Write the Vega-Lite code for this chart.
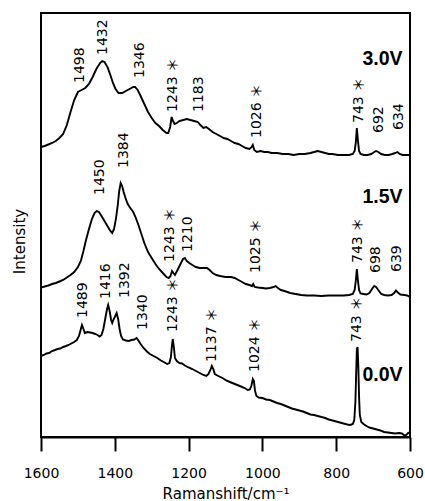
{
  "$schema": "https://vega.github.io/schema/vega-lite/v6.json",
  "width": 369,
  "height": 424,
  "autosize": "none",
  "padding": {"left": 41, "top": 13, "right": 15, "bottom": 64},
  "background": "white",
  "config": {
    "view": {"stroke": "black", "strokeWidth": 2},
    "axis": {"grid": false, "labelFont": "DejaVu Sans", "titleFont": "DejaVu Sans", "labelColor": "black", "titleColor": "black", "titleFontWeight": "normal"}
  },
  "datasets": {
    "spectra": [
      {"s":"3.0V","x":1600,"y":290},{"s":"3.0V","x":1590,"y":291},{"s":"3.0V","x":1580,"y":292.5},{"s":"3.0V","x":1570,"y":294},{"s":"3.0V","x":1560,"y":296},{"s":"3.0V","x":1550,"y":299},{"s":"3.0V","x":1540,"y":303},{"s":"3.0V","x":1530,"y":312},{"s":"3.0V","x":1520,"y":325},{"s":"3.0V","x":1510,"y":337},{"s":"3.0V","x":1500,"y":345},{"s":"3.0V","x":1490,"y":347},{"s":"3.0V","x":1480,"y":349},{"s":"3.0V","x":1470,"y":353},{"s":"3.0V","x":1460,"y":360},{"s":"3.0V","x":1450,"y":368},{"s":"3.0V","x":1440,"y":374},{"s":"3.0V","x":1434,"y":376},{"s":"3.0V","x":1428,"y":375},{"s":"3.0V","x":1420,"y":370},{"s":"3.0V","x":1412,"y":362},{"s":"3.0V","x":1405,"y":354},{"s":"3.0V","x":1398,"y":348},{"s":"3.0V","x":1390,"y":344},{"s":"3.0V","x":1380,"y":344},{"s":"3.0V","x":1370,"y":346},{"s":"3.0V","x":1360,"y":348},{"s":"3.0V","x":1350,"y":350},{"s":"3.0V","x":1345,"y":350},{"s":"3.0V","x":1338,"y":347},{"s":"3.0V","x":1330,"y":341},{"s":"3.0V","x":1320,"y":333},{"s":"3.0V","x":1310,"y":325},{"s":"3.0V","x":1300,"y":319},{"s":"3.0V","x":1290,"y":314},{"s":"3.0V","x":1280,"y":311},{"s":"3.0V","x":1270,"y":307},{"s":"3.0V","x":1260,"y":304},{"s":"3.0V","x":1255,"y":304},{"s":"3.0V","x":1250,"y":310},{"s":"3.0V","x":1246,"y":320},{"s":"3.0V","x":1242,"y":316},{"s":"3.0V","x":1238,"y":313},{"s":"3.0V","x":1232,"y":314},{"s":"3.0V","x":1225,"y":316},{"s":"3.0V","x":1215,"y":317},{"s":"3.0V","x":1205,"y":318},{"s":"3.0V","x":1195,"y":317},{"s":"3.0V","x":1185,"y":316},{"s":"3.0V","x":1175,"y":315},{"s":"3.0V","x":1168,"y":312},{"s":"3.0V","x":1160,"y":309},{"s":"3.0V","x":1152,"y":310},{"s":"3.0V","x":1145,"y":308},{"s":"3.0V","x":1135,"y":305},{"s":"3.0V","x":1125,"y":303},{"s":"3.0V","x":1115,"y":301},{"s":"3.0V","x":1105,"y":299},{"s":"3.0V","x":1095,"y":298},{"s":"3.0V","x":1085,"y":296},{"s":"3.0V","x":1075,"y":294},{"s":"3.0V","x":1065,"y":293},{"s":"3.0V","x":1055,"y":291},{"s":"3.0V","x":1045,"y":289},{"s":"3.0V","x":1035,"y":288},{"s":"3.0V","x":1029,"y":290},{"s":"3.0V","x":1026,"y":292},{"s":"3.0V","x":1022,"y":287},{"s":"3.0V","x":1015,"y":285},{"s":"3.0V","x":1005,"y":286},{"s":"3.0V","x":995,"y":285},{"s":"3.0V","x":985,"y":285},{"s":"3.0V","x":975,"y":284},{"s":"3.0V","x":960,"y":284},{"s":"3.0V","x":945,"y":283},{"s":"3.0V","x":930,"y":283},{"s":"3.0V","x":915,"y":282},{"s":"3.0V","x":900,"y":283},{"s":"3.0V","x":885,"y":283},{"s":"3.0V","x":870,"y":284},{"s":"3.0V","x":860,"y":285},{"s":"3.0V","x":850,"y":286},{"s":"3.0V","x":840,"y":285},{"s":"3.0V","x":830,"y":284},{"s":"3.0V","x":820,"y":283},{"s":"3.0V","x":810,"y":283},{"s":"3.0V","x":795,"y":282},{"s":"3.0V","x":780,"y":282},{"s":"3.0V","x":765,"y":282},{"s":"3.0V","x":755,"y":283},{"s":"3.0V","x":750,"y":286},{"s":"3.0V","x":747,"y":294},{"s":"3.0V","x":744,"y":309},{"s":"3.0V","x":741,"y":296},{"s":"3.0V","x":738,"y":286},{"s":"3.0V","x":734,"y":283},{"s":"3.0V","x":725,"y":282},{"s":"3.0V","x":715,"y":282},{"s":"3.0V","x":705,"y":283},{"s":"3.0V","x":697,"y":285},{"s":"3.0V","x":692,"y":286},{"s":"3.0V","x":686,"y":285},{"s":"3.0V","x":678,"y":283},{"s":"3.0V","x":668,"y":282},{"s":"3.0V","x":658,"y":282},{"s":"3.0V","x":648,"y":283},{"s":"3.0V","x":640,"y":284},{"s":"3.0V","x":634,"y":285},{"s":"3.0V","x":628,"y":283},{"s":"3.0V","x":620,"y":282},{"s":"3.0V","x":610,"y":282},{"s":"3.0V","x":600,"y":282},
      {"s":"1.5V","x":1600,"y":149.5},{"s":"1.5V","x":1590,"y":150.5},{"s":"1.5V","x":1580,"y":151.5},{"s":"1.5V","x":1570,"y":153},{"s":"1.5V","x":1560,"y":154},{"s":"1.5V","x":1550,"y":155.5},{"s":"1.5V","x":1540,"y":157},{"s":"1.5V","x":1530,"y":159.5},{"s":"1.5V","x":1520,"y":162},{"s":"1.5V","x":1510,"y":165},{"s":"1.5V","x":1500,"y":170},{"s":"1.5V","x":1492,"y":176},{"s":"1.5V","x":1485,"y":186},{"s":"1.5V","x":1478,"y":197},{"s":"1.5V","x":1470,"y":208},{"s":"1.5V","x":1462,"y":218},{"s":"1.5V","x":1455,"y":224},{"s":"1.5V","x":1449,"y":226},{"s":"1.5V","x":1443,"y":225},{"s":"1.5V","x":1436,"y":221},{"s":"1.5V","x":1428,"y":216},{"s":"1.5V","x":1420,"y":211},{"s":"1.5V","x":1412,"y":206},{"s":"1.5V","x":1407,"y":204},{"s":"1.5V","x":1402,"y":208},{"s":"1.5V","x":1397,"y":218},{"s":"1.5V","x":1392,"y":232},{"s":"1.5V","x":1388,"y":246},{"s":"1.5V","x":1384,"y":254},{"s":"1.5V","x":1380,"y":251},{"s":"1.5V","x":1376,"y":245},{"s":"1.5V","x":1371,"y":239},{"s":"1.5V","x":1365,"y":233},{"s":"1.5V","x":1358,"y":229},{"s":"1.5V","x":1350,"y":225},{"s":"1.5V","x":1344,"y":220},{"s":"1.5V","x":1336,"y":212},{"s":"1.5V","x":1328,"y":203},{"s":"1.5V","x":1320,"y":194},{"s":"1.5V","x":1310,"y":185},{"s":"1.5V","x":1300,"y":179},{"s":"1.5V","x":1290,"y":173},{"s":"1.5V","x":1280,"y":168},{"s":"1.5V","x":1270,"y":164},{"s":"1.5V","x":1260,"y":160},{"s":"1.5V","x":1254,"y":159},{"s":"1.5V","x":1249,"y":161},{"s":"1.5V","x":1245,"y":166},{"s":"1.5V","x":1241,"y":164},{"s":"1.5V","x":1237,"y":162},{"s":"1.5V","x":1230,"y":167},{"s":"1.5V","x":1222,"y":173},{"s":"1.5V","x":1215,"y":178},{"s":"1.5V","x":1210,"y":179},{"s":"1.5V","x":1205,"y":176},{"s":"1.5V","x":1198,"y":174},{"s":"1.5V","x":1190,"y":172},{"s":"1.5V","x":1180,"y":170},{"s":"1.5V","x":1170,"y":169},{"s":"1.5V","x":1160,"y":169},{"s":"1.5V","x":1150,"y":169},{"s":"1.5V","x":1143,"y":167},{"s":"1.5V","x":1135,"y":164},{"s":"1.5V","x":1125,"y":162},{"s":"1.5V","x":1115,"y":161},{"s":"1.5V","x":1100,"y":160},{"s":"1.5V","x":1085,"y":160},{"s":"1.5V","x":1075,"y":159},{"s":"1.5V","x":1065,"y":157},{"s":"1.5V","x":1055,"y":155},{"s":"1.5V","x":1045,"y":153},{"s":"1.5V","x":1035,"y":152},{"s":"1.5V","x":1028,"y":151},{"s":"1.5V","x":1025,"y":153},{"s":"1.5V","x":1021,"y":150},{"s":"1.5V","x":1012,"y":149.5},{"s":"1.5V","x":1000,"y":149},{"s":"1.5V","x":990,"y":148.5},{"s":"1.5V","x":980,"y":149},{"s":"1.5V","x":970,"y":150},{"s":"1.5V","x":964,"y":151},{"s":"1.5V","x":958,"y":149},{"s":"1.5V","x":950,"y":147},{"s":"1.5V","x":940,"y":146},{"s":"1.5V","x":925,"y":144},{"s":"1.5V","x":910,"y":143},{"s":"1.5V","x":895,"y":142},{"s":"1.5V","x":880,"y":141.5},{"s":"1.5V","x":860,"y":141.5},{"s":"1.5V","x":840,"y":141},{"s":"1.5V","x":820,"y":141.5},{"s":"1.5V","x":800,"y":141.5},{"s":"1.5V","x":780,"y":141.5},{"s":"1.5V","x":765,"y":142},{"s":"1.5V","x":755,"y":143},{"s":"1.5V","x":750,"y":147},{"s":"1.5V","x":747,"y":156},{"s":"1.5V","x":744,"y":168},{"s":"1.5V","x":741,"y":156},{"s":"1.5V","x":738,"y":147},{"s":"1.5V","x":734,"y":143.5},{"s":"1.5V","x":726,"y":143},{"s":"1.5V","x":718,"y":142.5},{"s":"1.5V","x":710,"y":144},{"s":"1.5V","x":703,"y":148},{"s":"1.5V","x":697,"y":151},{"s":"1.5V","x":692,"y":150},{"s":"1.5V","x":686,"y":147},{"s":"1.5V","x":678,"y":143},{"s":"1.5V","x":670,"y":142},{"s":"1.5V","x":660,"y":141.5},{"s":"1.5V","x":650,"y":142},{"s":"1.5V","x":643,"y":144},{"s":"1.5V","x":638,"y":146.5},{"s":"1.5V","x":633,"y":144.5},{"s":"1.5V","x":626,"y":142.5},{"s":"1.5V","x":615,"y":142},{"s":"1.5V","x":608,"y":141.5},{"s":"1.5V","x":600,"y":140},
      {"s":"0.0V","x":1600,"y":81},{"s":"0.0V","x":1592,"y":82},{"s":"0.0V","x":1585,"y":83.5},{"s":"0.0V","x":1578,"y":84},{"s":"0.0V","x":1570,"y":86},{"s":"0.0V","x":1562,"y":87},{"s":"0.0V","x":1555,"y":88},{"s":"0.0V","x":1548,"y":88.5},{"s":"0.0V","x":1540,"y":90},{"s":"0.0V","x":1532,"y":91},{"s":"0.0V","x":1525,"y":92},{"s":"0.0V","x":1518,"y":93.5},{"s":"0.0V","x":1510,"y":95},{"s":"0.0V","x":1503,"y":97},{"s":"0.0V","x":1497,"y":101},{"s":"0.0V","x":1492,"y":108},{"s":"0.0V","x":1489,"y":112},{"s":"0.0V","x":1485,"y":108},{"s":"0.0V","x":1481,"y":104},{"s":"0.0V","x":1474,"y":105},{"s":"0.0V","x":1467,"y":104.5},{"s":"0.0V","x":1460,"y":104},{"s":"0.0V","x":1453,"y":103},{"s":"0.0V","x":1447,"y":102},{"s":"0.0V","x":1441,"y":100.5},{"s":"0.0V","x":1436,"y":102},{"s":"0.0V","x":1431,"y":108},{"s":"0.0V","x":1426,"y":118},{"s":"0.0V","x":1421,"y":128},{"s":"0.0V","x":1418,"y":132},{"s":"0.0V","x":1414,"y":126},{"s":"0.0V","x":1410,"y":117},{"s":"0.0V","x":1407,"y":114},{"s":"0.0V","x":1404,"y":117},{"s":"0.0V","x":1400,"y":120},{"s":"0.0V","x":1395,"y":124},{"s":"0.0V","x":1391,"y":118},{"s":"0.0V","x":1387,"y":108},{"s":"0.0V","x":1383,"y":101},{"s":"0.0V","x":1378,"y":97.5},{"s":"0.0V","x":1370,"y":96.5},{"s":"0.0V","x":1362,"y":96},{"s":"0.0V","x":1355,"y":97},{"s":"0.0V","x":1347,"y":97.5},{"s":"0.0V","x":1341,"y":99},{"s":"0.0V","x":1336,"y":96.5},{"s":"0.0V","x":1330,"y":93},{"s":"0.0V","x":1322,"y":89},{"s":"0.0V","x":1313,"y":85.5},{"s":"0.0V","x":1305,"y":83},{"s":"0.0V","x":1295,"y":81},{"s":"0.0V","x":1285,"y":79},{"s":"0.0V","x":1275,"y":76.5},{"s":"0.0V","x":1265,"y":74.5},{"s":"0.0V","x":1258,"y":73},{"s":"0.0V","x":1252,"y":74},{"s":"0.0V","x":1248,"y":80},{"s":"0.0V","x":1245,"y":92},{"s":"0.0V","x":1243,"y":98},{"s":"0.0V","x":1240,"y":90},{"s":"0.0V","x":1237,"y":79},{"s":"0.0V","x":1232,"y":76},{"s":"0.0V","x":1225,"y":74},{"s":"0.0V","x":1218,"y":73.5},{"s":"0.0V","x":1210,"y":71.5},{"s":"0.0V","x":1200,"y":69.5},{"s":"0.0V","x":1190,"y":68},{"s":"0.0V","x":1180,"y":66},{"s":"0.0V","x":1170,"y":64},{"s":"0.0V","x":1160,"y":62},{"s":"0.0V","x":1152,"y":61},{"s":"0.0V","x":1146,"y":63},{"s":"0.0V","x":1141,"y":67},{"s":"0.0V","x":1137,"y":71},{"s":"0.0V","x":1133,"y":68},{"s":"0.0V","x":1129,"y":63},{"s":"0.0V","x":1122,"y":61.5},{"s":"0.0V","x":1114,"y":60},{"s":"0.0V","x":1106,"y":58.5},{"s":"0.0V","x":1098,"y":56.5},{"s":"0.0V","x":1088,"y":55},{"s":"0.0V","x":1078,"y":53.5},{"s":"0.0V","x":1068,"y":52},{"s":"0.0V","x":1058,"y":50.5},{"s":"0.0V","x":1048,"y":49},{"s":"0.0V","x":1040,"y":47},{"s":"0.0V","x":1034,"y":47.5},{"s":"0.0V","x":1030,"y":51},{"s":"0.0V","x":1026,"y":58},{"s":"0.0V","x":1023,"y":56},{"s":"0.0V","x":1020,"y":46},{"s":"0.0V","x":1016,"y":41},{"s":"0.0V","x":1010,"y":39.5},{"s":"0.0V","x":1000,"y":39},{"s":"0.0V","x":990,"y":37.5},{"s":"0.0V","x":980,"y":37},{"s":"0.0V","x":970,"y":35.5},{"s":"0.0V","x":960,"y":34},{"s":"0.0V","x":950,"y":33},{"s":"0.0V","x":940,"y":31.5},{"s":"0.0V","x":930,"y":30},{"s":"0.0V","x":920,"y":28.5},{"s":"0.0V","x":910,"y":27.5},{"s":"0.0V","x":900,"y":26.5},{"s":"0.0V","x":890,"y":25.5},{"s":"0.0V","x":880,"y":24},{"s":"0.0V","x":870,"y":22.5},{"s":"0.0V","x":860,"y":22},{"s":"0.0V","x":850,"y":21},{"s":"0.0V","x":840,"y":20},{"s":"0.0V","x":830,"y":19},{"s":"0.0V","x":820,"y":17.5},{"s":"0.0V","x":810,"y":16.5},{"s":"0.0V","x":800,"y":15.5},{"s":"0.0V","x":790,"y":14.5},{"s":"0.0V","x":780,"y":13.5},{"s":"0.0V","x":770,"y":12.5},{"s":"0.0V","x":762,"y":12},{"s":"0.0V","x":755,"y":13},{"s":"0.0V","x":751,"y":17},{"s":"0.0V","x":748,"y":35},{"s":"0.0V","x":746,"y":62},{"s":"0.0V","x":744,"y":88},{"s":"0.0V","x":742,"y":90},{"s":"0.0V","x":740,"y":70},{"s":"0.0V","x":738,"y":40},{"s":"0.0V","x":736,"y":22},{"s":"0.0V","x":732,"y":15},{"s":"0.0V","x":726,"y":13},{"s":"0.0V","x":718,"y":11},{"s":"0.0V","x":710,"y":9.5},{"s":"0.0V","x":700,"y":8.5},{"s":"0.0V","x":690,"y":7.5},{"s":"0.0V","x":680,"y":6.5},{"s":"0.0V","x":670,"y":5},{"s":"0.0V","x":660,"y":4.5},{"s":"0.0V","x":650,"y":4},{"s":"0.0V","x":640,"y":3.5},{"s":"0.0V","x":630,"y":4},{"s":"0.0V","x":622,"y":3.5},{"s":"0.0V","x":615,"y":1.5},{"s":"0.0V","x":610,"y":2},{"s":"0.0V","x":605,"y":4},{"s":"0.0V","x":600,"y":5}
    ],
    "peaks": [
      {"x":1494,"y":354,"t":"1498"},{"x":1432,"y":382,"t":"1432"},{"x":1332,"y":359,"t":"1346"},{"x":1242,"y":325,"t":"1243 ＊"},{"x":1172,"y":325,"t":"1183"},{"x":1015,"y":299,"t":"1026 ＊"},{"x":738,"y":314,"t":"743 ＊"},{"x":684,"y":304,"t":"692"},{"x":630,"y":307,"t":"634"},
      {"x":1440,"y":242,"t":"1450"},{"x":1375,"y":269,"t":"1384"},{"x":1250,"y":175,"t":"1243 ＊"},{"x":1202,"y":185,"t":"1210"},{"x":1017,"y":164,"t":"1025 ＊"},{"x":741,"y":174,"t":"743 ＊"},{"x":692,"y":164,"t":"698"},{"x":635,"y":165,"t":"639"},
      {"x":1487,"y":119,"t":"1489"},{"x":1424,"y":138,"t":"1416"},{"x":1372,"y":139,"t":"1392"},{"x":1323,"y":107,"t":"1340"},{"x":1242,"y":105,"t":"1243 ＊"},{"x":1137,"y":75,"t":"1137 ＊"},{"x":1020,"y":65,"t":"1024 ＊"},{"x":744,"y":95,"t":"743 ＊"}
    ],
    "volts": [
      {"x":620,"y":378,"t":"3.0V"},{"x":620,"y":240,"t":"1.5V"},{"x":620,"y":62,"t":"0.0V"}
    ]
  },
  "layer": [
    {
      "data": {"name": "spectra"},
      "mark": {"type": "line", "color": "black", "strokeWidth": 1.9, "interpolate": "linear"},
      "encoding": {
        "x": {"field": "x", "type": "quantitative", "scale": {"domain": [600, 1600], "reverse": true, "nice": false, "zero": false},
          "axis": {"values": [1600, 1400, 1200, 1000, 800, 600], "format": "d", "title": "Ramanshift/cm⁻¹", "titleFontSize": 15, "labelFontSize": 14, "tickSize": 14, "tickWidth": 2, "tickColor": "black", "domainColor": "black", "domainWidth": 2, "labelPadding": 15, "titlePadding": 6, "labelFlush": false, "labelOverlap": false}},
        "y": {"field": "y", "type": "quantitative", "scale": {"domain": [0, 424], "nice": false, "zero": false},
          "axis": {"title": "Intensity", "titleFontSize": 15, "labels": false, "ticks": false, "domain": false, "titlePadding": 14, "titleY": 228}},
        "detail": {"field": "s", "type": "nominal"}
      }
    },
    {
      "data": {"name": "peaks"},
      "mark": {"type": "text", "angle": 270, "align": "left", "baseline": "middle", "font": "DejaVu Sans, Noto Sans CJK JP", "fontSize": 14, "color": "black"},
      "encoding": {
        "x": {"field": "x", "type": "quantitative"},
        "y": {"field": "y", "type": "quantitative"},
        "text": {"field": "t", "type": "nominal"}
      }
    },
    {
      "data": {"name": "volts"},
      "mark": {"type": "text", "align": "right", "baseline": "middle", "font": "Liberation Sans", "fontWeight": "bold", "fontSize": 19.5, "color": "black"},
      "encoding": {
        "x": {"field": "x", "type": "quantitative"},
        "y": {"field": "y", "type": "quantitative"},
        "text": {"field": "t", "type": "nominal"}
      }
    }
  ]
}
